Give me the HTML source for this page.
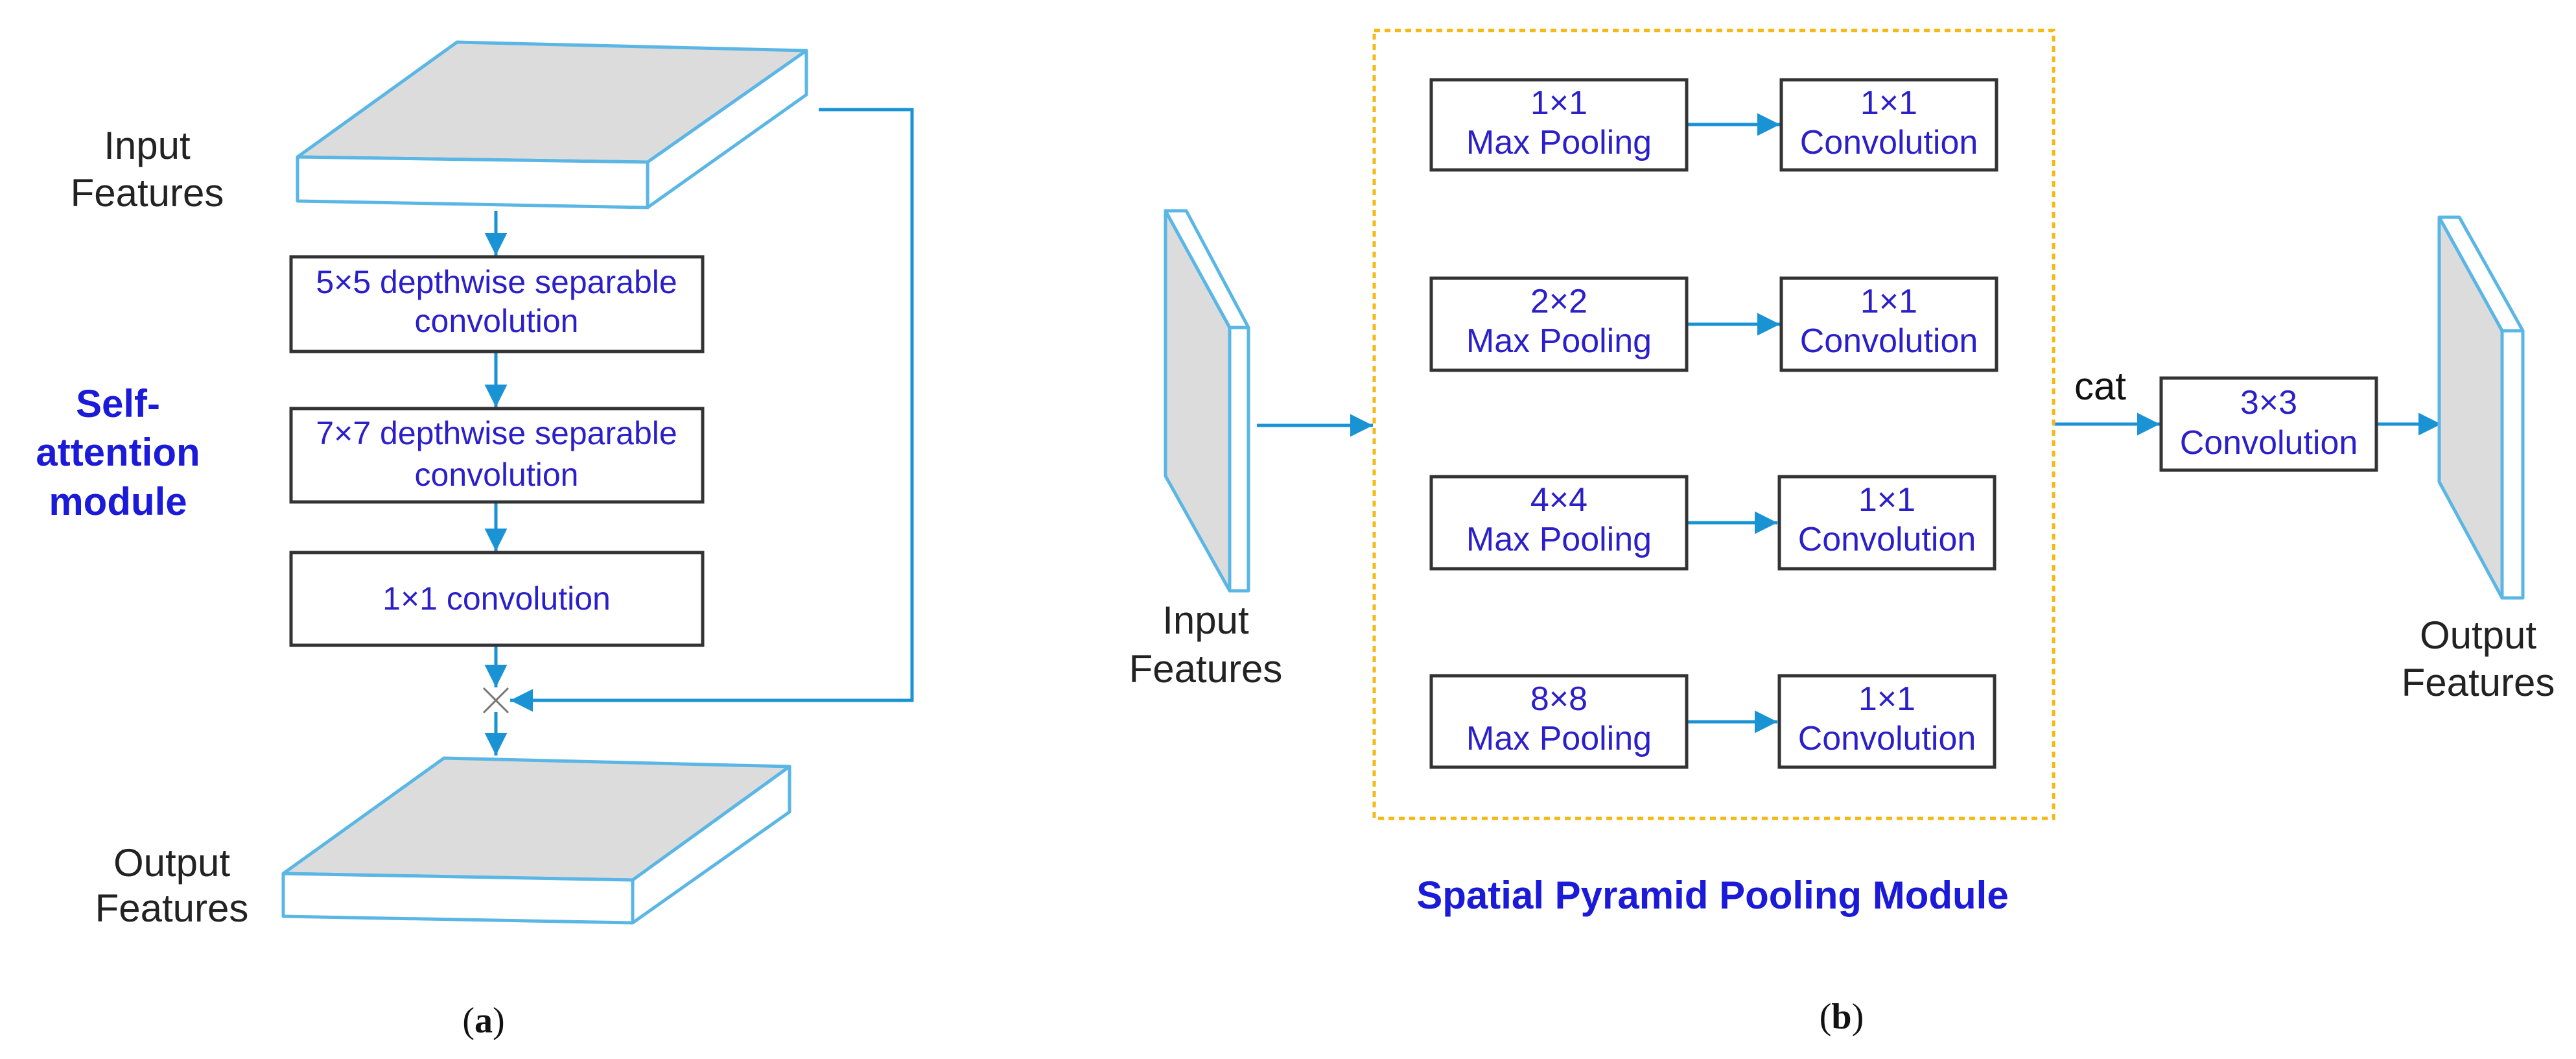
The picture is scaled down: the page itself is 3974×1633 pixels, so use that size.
<!DOCTYPE html>
<html><head><meta charset="utf-8"><style>
html,body{margin:0;padding:0;background:#fff;}
svg{display:block;}
text{font-family:"Liberation Sans",sans-serif;}
</style></head><body>
<svg width="3974" height="1633" viewBox="0 0 3974 1633" xmlns="http://www.w3.org/2000/svg">
<defs>
<marker id="ah" viewBox="0 0 10 10" refX="10" refY="5" markerWidth="7" markerHeight="7" markerUnits="strokeWidth" orient="auto">
<path d="M0,0 L10,5 L0,10 z" fill="#1a93d4"/></marker>
</defs>
<g stroke="#1a93d4" stroke-width="5" fill="none">
<!-- left panel arrows -->
<line x1="765" y1="325" x2="765" y2="394" marker-end="url(#ah)"/>
<line x1="765" y1="542" x2="765" y2="628" marker-end="url(#ah)"/>
<line x1="765" y1="774" x2="765" y2="850" marker-end="url(#ah)"/>
<line x1="765" y1="995" x2="765" y2="1060" marker-end="url(#ah)"/>
<line x1="765" y1="1098" x2="765" y2="1165" marker-end="url(#ah)"/>
<polyline points="1263,169 1407,169 1407,1080 787,1080" marker-end="url(#ah)"/>
<!-- right panel arrows -->
<line x1="1939" y1="656" x2="2118" y2="656" marker-end="url(#ah)"/>
<line x1="2603" y1="192" x2="2746" y2="192" marker-end="url(#ah)"/>
<line x1="2603" y1="500" x2="2746" y2="500" marker-end="url(#ah)"/>
<line x1="2603" y1="806" x2="2742" y2="806" marker-end="url(#ah)"/>
<line x1="2603" y1="1113" x2="2742" y2="1113" marker-end="url(#ah)"/>
<line x1="3168" y1="654" x2="3332" y2="654" marker-end="url(#ah)"/>
<line x1="3666" y1="654" x2="3766" y2="654" marker-end="url(#ah)"/>
</g>
<!-- X mark -->
<g stroke="#777" stroke-width="3"><line x1="746" y1="1061" x2="784" y2="1099"/><line x1="784" y1="1061" x2="746" y2="1099"/></g>
<!-- slabs -->
<g stroke="#5ab6e4" stroke-width="5" stroke-linejoin="round">
<polygon points="459,242 705,65 1244,78 999,250" fill="#dcdcdc"/>
<polygon points="459,242 999,250 999,320 459,310" fill="#fff"/>
<polygon points="999,250 1244,78 1244,146 999,320" fill="#fff"/>
<polygon points="437,1347 685,1169 1218,1182 976,1357" fill="#dcdcdc"/>
<polygon points="437,1347 976,1357 976,1423 437,1413" fill="#fff"/>
<polygon points="976,1357 1218,1182 1218,1252 976,1423" fill="#fff"/>
<polygon points="1798,325 1897,505 1897,911 1798,734" fill="#dcdcdc"/>
<polygon points="1798,325 1830,325 1926,505 1897,505" fill="#fff"/>
<polygon points="1897,505 1926,505 1926,911 1897,911" fill="#fff"/>
<polygon points="3763,335 3860,510 3860,922 3763,743" fill="#dcdcdc"/>
<polygon points="3763,335 3794,335 3892,510 3860,510" fill="#fff"/>
<polygon points="3860,510 3892,510 3892,922 3860,922" fill="#fff"/>
</g>
<!-- boxes -->
<g fill="#fff" stroke="#333" stroke-width="5">
<rect x="449" y="396" width="635" height="146"/>
<rect x="449" y="630" width="635" height="144"/>
<rect x="449" y="852" width="635" height="143"/>
<rect x="2208" y="123" width="394" height="139"/>
<rect x="2748" y="123" width="332" height="139"/>
<rect x="2208" y="429" width="394" height="142"/>
<rect x="2748" y="429" width="332" height="142"/>
<rect x="2208" y="735" width="394" height="142"/>
<rect x="2745" y="735" width="332" height="142"/>
<rect x="2208" y="1042" width="394" height="141"/>
<rect x="2745" y="1042" width="332" height="141"/>
<rect x="3334" y="583" width="332" height="142"/>
</g>
<rect x="2120" y="47" width="1048" height="1215" fill="none" stroke="#f5b814" stroke-width="5" stroke-dasharray="9,7"/>
<!-- box text -->
<g fill="#2a1fc8" font-size="50" text-anchor="middle">
<text x="766" y="452">5×5 depthwise separable</text>
<text x="766" y="512">convolution</text>
<text x="766" y="685">7×7 depthwise separable</text>
<text x="766" y="749">convolution</text>
<text x="766" y="940">1×1  convolution</text>
<g font-size="52">
<text x="2405" y="176">1×1</text><text x="2405" y="237">Max Pooling</text>
<text x="2914" y="176">1×1</text><text x="2914" y="237">Convolution</text>
<text x="2405" y="482">2×2</text><text x="2405" y="543">Max Pooling</text>
<text x="2914" y="482">1×1</text><text x="2914" y="543">Convolution</text>
<text x="2405" y="788">4×4</text><text x="2405" y="849">Max Pooling</text>
<text x="2911" y="788">1×1</text><text x="2911" y="849">Convolution</text>
<text x="2405" y="1095">8×8</text><text x="2405" y="1156">Max Pooling</text>
<text x="2911" y="1095">1×1</text><text x="2911" y="1156">Convolution</text>
<text x="3500" y="638">3×3</text><text x="3500" y="700">Convolution</text>
</g>
</g>
<!-- labels -->
<g fill="#222" font-size="60" text-anchor="middle">
<text x="227" y="245">Input</text><text x="227" y="318">Features</text>
<text x="265" y="1351">Output</text><text x="265" y="1421">Features</text>
<text x="1860" y="977">Input</text><text x="1860" y="1052">Features</text>
<text x="3823" y="1000">Output</text><text x="3823" y="1073">Features</text>
<text x="3240" y="616" fill="#111">cat</text>
</g>
<g fill="#1a1ad8" font-size="60" font-weight="bold" text-anchor="middle">
<text x="182" y="643">Self-</text><text x="182" y="718">attention</text><text x="182" y="794">module</text>
<text x="2642" y="1401">Spatial Pyramid Pooling Module</text>
</g>
<g fill="#111" font-size="56" text-anchor="middle" font-family="Liberation Serif,serif">
<text x="746" y="1592" style="font-family:'Liberation Serif',serif">(<tspan font-weight="bold">a</tspan>)</text>
<text x="2841" y="1586" style="font-family:'Liberation Serif',serif">(<tspan font-weight="bold">b</tspan>)</text>
</g>
</svg>
</body></html>
